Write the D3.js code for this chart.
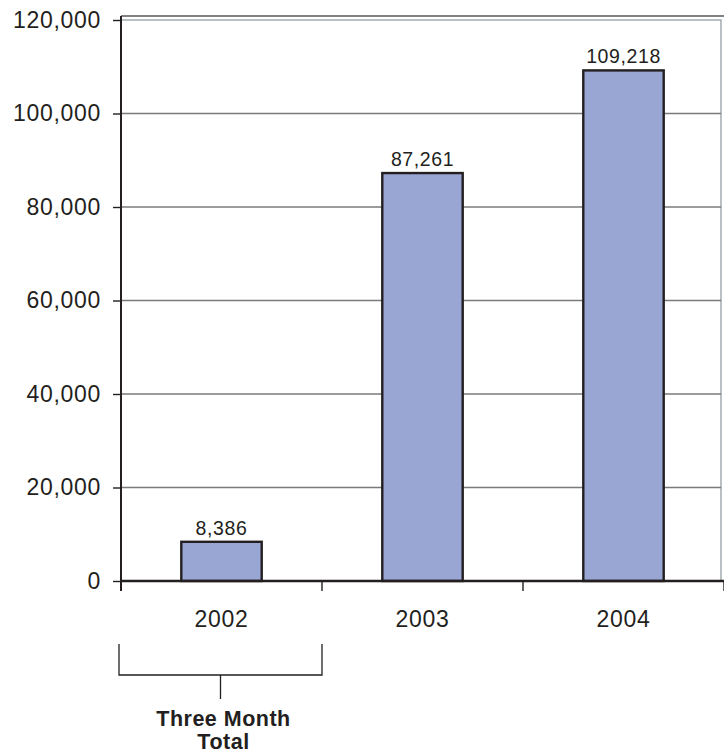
<!DOCTYPE html>
<html>
<head>
<meta charset="utf-8">
<script src="https://cdn.jsdelivr.net/npm/d3@7"></script>
<style>
  body { margin: 0; background: #fff; }
  text { font-family: Arial, "Liberation Sans", sans-serif; fill: #231f20; }
</style>
</head>
<body>
<div id="chart"></div>
<script>
// chart data
var years = ["2002", "2003", "2004"];
var totals = [8386, 87261, 109218];
var yTicks = [0, 20000, 40000, 60000, 80000, 100000, 120000];
var noteLines = ["Three Month", "Total"];

var width = 724,
    height = 755;

var plotLeft = 121, plotRight = 721, plotTop = 20, plotBottom = 581;

var svg = d3.select("#chart")
    .append("svg")
    .attr("width", width)
    .attr("height", height);

var y = d3.scaleLinear()
    .domain([0, 120000])
    .range([plotBottom, plotTop]);

// category bands, bar sits in the middle 40% of each
var x = d3.scaleBand()
    .domain(years)
    .range([plotLeft, 724])
    .paddingInner(0.6)
    .paddingOuter(0.3);

var fmt = d3.format(",");

// dark line above the plot
svg.append("line")
    .attr("x1", plotLeft).attr("x2", width)
    .attr("y1", 16).attr("y2", 16)
    .attr("stroke", "#58595b")
    .attr("stroke-width", 1.6);

// plot frame
svg.append("rect")
    .attr("x", plotLeft).attr("y", plotTop)
    .attr("width", plotRight - plotLeft).attr("height", plotBottom - plotTop)
    .attr("fill", "none")
    .attr("stroke", "#8c949c")
    .attr("stroke-width", 1.2);

// gridlines
svg.append("g")
    .selectAll("line")
    .data(yTicks.filter(d => d > 0 && d < 120000))
    .enter()
    .append("line")
    .attr("x1", plotLeft).attr("x2", plotRight)
    .attr("y1", d => y(d)).attr("y2", d => y(d))
    .attr("stroke", "#7a7a7a")
    .attr("stroke-width", 1.4);

// y axis
var yAxis = svg.append("g")
    .attr("transform", `translate(${plotLeft},0)`)
    .call(d3.axisLeft(y).tickValues(yTicks).tickFormat(fmt).tickSize(8).tickPadding(12));
yAxis.select(".domain").remove();
yAxis.selectAll(".tick line").attr("stroke", "#231f20").attr("stroke-width", 1.4);
yAxis.selectAll(".tick text")
    .attr("font-size", 23)
    .attr("letter-spacing", 0.7)
    .attr("font-family", "Arial, 'Liberation Sans', sans-serif")
    .attr("fill", "#231f20");

svg.append("line")
    .attr("x1", plotLeft).attr("x2", plotLeft)
    .attr("y1", 16).attr("y2", plotBottom + 10)
    .attr("stroke", "#231f20")
    .attr("stroke-width", 2);

// bars
var bars = svg.append("g")
    .selectAll("g")
    .data(years.map((d, i) => ({ year: d, value: totals[i] })))
    .enter()
    .append("g");

bars.append("rect")
    .attr("x", d => x(d.year))
    .attr("y", d => y(d.value))
    .attr("width", x.bandwidth())
    .attr("height", d => plotBottom - y(d.value))
    .attr("fill", "#99a5d3")
    .attr("stroke", "#231f20")
    .attr("stroke-width", 2.4);

bars.append("text")
    .attr("x", d => x(d.year) + x.bandwidth() / 2)
    .attr("y", d => y(d.value) - 7)
    .attr("text-anchor", "middle")
    .attr("font-size", 19.5)
    .attr("letter-spacing", 0.6)
    .text(d => fmt(d.value));

// x axis
var step = x.step();
svg.append("line")
    .attr("x1", plotLeft).attr("x2", width)
    .attr("y1", plotBottom).attr("y2", plotBottom)
    .attr("stroke", "#231f20")
    .attr("stroke-width", 2.4);

svg.append("g")
    .selectAll("line")
    .data(d3.range(years.length + 1))
    .enter()
    .append("line")
    .attr("x1", i => plotLeft + i * step).attr("x2", i => plotLeft + i * step)
    .attr("y1", plotBottom).attr("y2", plotBottom + 10)
    .attr("stroke", "#231f20")
    .attr("stroke-width", 1.4);

svg.append("g")
    .selectAll("text")
    .data(years)
    .enter()
    .append("text")
    .attr("x", d => x(d) + x.bandwidth() / 2)
    .attr("y", 627)
    .attr("text-anchor", "middle")
    .attr("font-size", 23)
    .attr("letter-spacing", 0.7)
    .text(d => d);

// bracket under 2002
var bx0 = plotLeft - 2, bx1 = plotLeft + step, bmid = (bx0 + bx1) / 2;
svg.append("path")
    .attr("d", `M${bx0},644 V675 H${bx1} V644 M${bmid},675 V699`)
    .attr("fill", "none")
    .attr("stroke", "#231f20")
    .attr("stroke-width", 1.3);

svg.append("g")
    .selectAll("text")
    .data(noteLines)
    .enter()
    .append("text")
    .attr("x", bmid + 3)
    .attr("y", (d, i) => 726 + i * 23)
    .attr("text-anchor", "middle")
    .attr("font-size", 21.5)
    .attr("font-weight", "bold")
    .attr("letter-spacing", 0.5)
    .text(d => d);
</script>
</body>
</html>
